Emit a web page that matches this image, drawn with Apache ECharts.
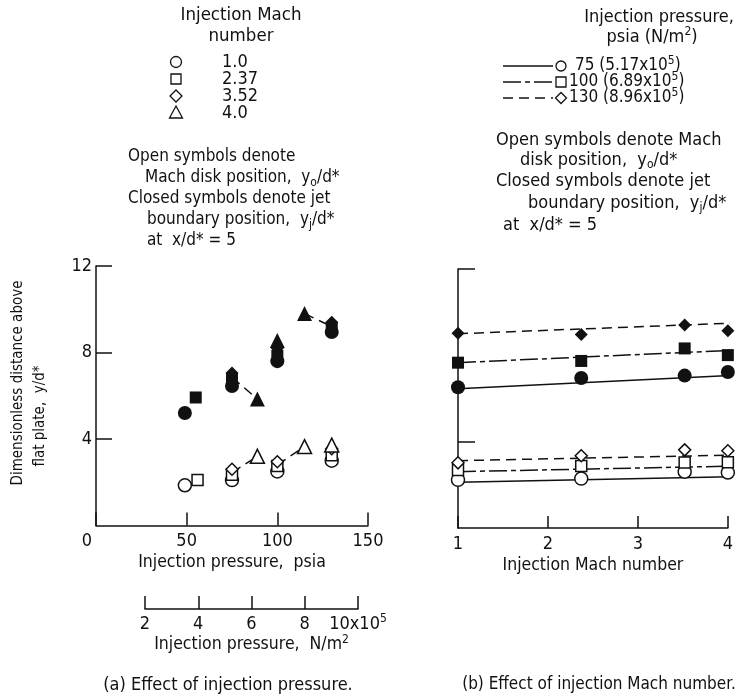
<!DOCTYPE html>
<html><head><meta charset="utf-8">
<script src="https://cdn.jsdelivr.net/npm/echarts@6/dist/echarts.min.js"></script>
<style>html,body{margin:0;padding:0;background:#fff}#c{width:736px;height:698px}</style>
</head><body><div id="c"></div>
<script>
// ---------------- Panel (a): effect of injection pressure ----------------
const psiaTicks = [0, 50, 100, 150];
const paTicks = [2, 4, 6, 8, 10];
const yTicks = [0, 4, 8, 12];
const machLegend = ['1.0', '2.37', '3.52', '4.0'];
// closed symbols: jet boundary position y_j/d*  [pressure psia, y/d*]
const aClosedM1 = [[49, 5.2], [75, 6.45], [100, 7.6], [130, 8.95]];
const aClosedM237 = [[55, 5.92], [75, 6.8], [100, 7.85], [130, 9.15]];
const aClosedM352 = [[75, 7.05], [100, 8.2], [130, 9.4]];
const aClosedM4 = [[89, 5.85], [100, 8.55], [115, 9.8]];
// open symbols: Mach disk position y_o/d*
const aOpenM1 = [[49, 1.86], [75, 2.1], [100, 2.5], [130, 3.0]];
const aOpenM237 = [[56, 2.1], [75, 2.35], [100, 2.75], [130, 3.25]];
const aOpenM352 = [[75, 2.6], [100, 2.95], [130, 3.55]];
const aOpenM4 = [[89, 3.2], [115, 3.65], [130, 3.72]];
// dashed connectors
const aDashClosed1 = [[75, 6.85], [89, 5.85]];
const aDashClosed2 = [[115, 9.8], [130, 9.2]];
const aDashOpen1 = [[75, 2.45], [89, 3.2]];
const aDashOpen2 = [[100, 2.8], [115, 3.65]];

// ---------------- Panel (b): effect of injection Mach number ----------------
const machTicks = [1, 2, 3, 4];
const machB = [1.0, 2.37, 3.52, 4.0];
const pressurePsia = ['75', '100', '130'];
const pressurePa = ['5.17', '6.89', '8.96'];
const b75Closed = [6.52, 6.95, 7.06, 7.23];
const b100Closed = [7.66, 7.74, 8.32, 8.01];
const b130Closed = [9.02, 8.97, 9.40, 9.14];
const b75Open = [2.23, 2.29, 2.61, 2.57];
const b100Open = [2.69, 2.87, 3.03, 3.05];
const b130Open = [3.02, 3.35, 3.62, 3.58];
// faired curves [Mach, y/d*]
const fair75Closed = [[1.0, 6.45], [4.08, 7.08]];
const fair100Closed = [[1.0, 7.66], [4.08, 8.24]];
const fair130Closed = [[1.0, 9.0], [4.08, 9.5]];
const fair75Open = [[1.0, 2.12], [4.08, 2.38]];
const fair100Open = [[1.0, 2.61], [4.08, 2.87]];
const fair130Open = [[1.0, 3.12], [4.08, 3.38]];

const FONT = "'Liberation Sans Narrow','DejaVu Sans Condensed','Liberation Sans',sans-serif";
const BLK = '#111';
const DASH = [10, 6];
const DASHDOT = [18, 4, 5, 4];

const chart = echarts.init(document.getElementById('c'), null, {renderer: 'canvas'});

function zip(xs, ys) { return xs.map((x, i) => [x, ys[i]]); }
function sc(data, symbol, size, open, xi) {
  return {
    type: 'scatter', xAxisIndex: xi, yAxisIndex: xi, data: data, symbol: symbol, symbolSize: size,
    silent: true, z: open ? 4 : 3,
    itemStyle: open ? {color: '#fff', borderColor: BLK, borderWidth: 1.5, opacity: 1} : {color: BLK, opacity: 1}
  };
}
function ln(data, type, xi) {
  return {
    type: 'line', xAxisIndex: xi, yAxisIndex: xi, data: data, showSymbol: false, symbol: 'none',
    silent: true, clip: false, z: 2, lineStyle: {color: BLK, width: 1.5, type: type}
  };
}
const richFor = s => ({
  n: {fontSize: s, fontFamily: FONT, lineHeight: 22, fill: BLK},
  sub: {fontSize: 12, fontFamily: FONT, lineHeight: 12, verticalAlign: 'bottom', fill: BLK},
  sup: {fontSize: 12, fontFamily: FONT, lineHeight: 12, verticalAlign: 'top', fill: BLK}
});
const txt = (x, y, text, size, align, extra) => Object.assign({
  type: 'text', x: x, y: y, silent: true,
  style: {
    text: text, fontSize: size, fontFamily: FONT, fill: BLK,
    align: align || 'left', verticalAlign: 'middle', rich: richFor(size)
  }
}, extra || {});
const axisRich = {
  n: {fontSize: 18, fontFamily: FONT, color: BLK, lineHeight: 22},
  s: {fontSize: 12, fontFamily: FONT, color: BLK, lineHeight: 11, verticalAlign: 'top'},
  m: {fontSize: 17.5, fontFamily: FONT, color: BLK, lineHeight: 22}
};

const axisCommon = {
  axisLine: {show: true, lineStyle: {color: BLK, width: 1.5}},
  splitLine: {show: false},
  axisLabel: {color: BLK, fontSize: 18, fontFamily: FONT},
  nameTextStyle: {color: BLK, fontSize: 17.5, fontFamily: FONT}
};

const graphic = [];
// left legend block
graphic.push(txt(241, 15, 'Injection Mach', 18.5, 'center'));
graphic.push(txt(241, 36, 'number', 18.5, 'center'));
const rowsL = [62, 79, 96, 113];
rowsL.forEach((y, i) => graphic.push(txt(222, y, machLegend[i], 18, 'left')));
graphic.push({type: 'circle', shape: {cx: 176, cy: rowsL[0], r: 5.5}, style: {fill: '#fff', stroke: BLK, lineWidth: 1.3}});
graphic.push({type: 'rect', shape: {x: 171, y: rowsL[1] - 5, width: 10, height: 10}, style: {fill: '#fff', stroke: BLK, lineWidth: 1.3}});
graphic.push({type: 'polygon', shape: {points: [[176, rowsL[2] - 6], [182, rowsL[2]], [176, rowsL[2] + 6], [170, rowsL[2]]]}, style: {fill: '#fff', stroke: BLK, lineWidth: 1.3}});
graphic.push({type: 'polygon', shape: {points: [[176, rowsL[3] - 7], [182.5, rowsL[3] + 5], [169.5, rowsL[3] + 5]]}, style: {fill: '#fff', stroke: BLK, lineWidth: 1.3}});
graphic.push(txt(128, 157, 'Open symbols denote', 17));
graphic.push(txt(145, 178, '{n|Mach disk position,  y}{sub|o}{n|/d*}', 17));
graphic.push(txt(128, 199, 'Closed symbols denote jet', 17));
graphic.push(txt(147, 220, '{n|boundary position,  y}{sub|j}{n|/d*}', 17));
graphic.push(txt(147, 241, 'at  x/d* = 5', 17));

// right legend block
graphic.push(txt(659, 17, 'Injection pressure,', 18, 'center'));
graphic.push(txt(652, 37, '{n|psia (N/m}{sup|2}{n|)}', 18, 'center'));
const rowsR = [66, 82, 98];
const dashR = [null, DASHDOT, DASH];
rowsR.forEach((y, i) => {
  graphic.push({type: 'line', shape: {x1: 503, y1: y, x2: 553, y2: y}, style: {stroke: BLK, lineWidth: 1.3, lineDash: dashR[i]}});
  graphic.push(txt(i === 0 ? 575 : 569, y, '{n|' + pressurePsia[i] + ' (' + pressurePa[i] + 'x10}{sup|5}{n|)}', 17, 'left'));
});
graphic.push({type: 'circle', shape: {cx: 561, cy: rowsR[0], r: 5}, style: {fill: '#fff', stroke: BLK, lineWidth: 1.3}});
graphic.push({type: 'rect', shape: {x: 556, y: rowsR[1] - 5, width: 10, height: 10}, style: {fill: '#fff', stroke: BLK, lineWidth: 1.3}});
graphic.push({type: 'polygon', shape: {points: [[561, rowsR[2] - 5.5], [566.5, rowsR[2]], [561, rowsR[2] + 5.5], [555.5, rowsR[2]]]}, style: {fill: '#fff', stroke: BLK, lineWidth: 1.3}});
graphic.push(txt(496, 140, 'Open symbols denote Mach', 18));
graphic.push(txt(520, 160, '{n|disk position,  y}{sub|o}{n|/d*}', 18));
graphic.push(txt(496, 181, 'Closed symbols denote jet', 18));
graphic.push(txt(528, 203, '{n|boundary position,  y}{sub|j}{n|/d*}', 18));
graphic.push(txt(503, 225, 'at  x/d* = 5', 18));

// y-axis title (rotated)
graphic.push(txt(18, 383, 'Dimensionless distance above', 15, 'center', {rotation: Math.PI / 2}));
graphic.push(txt(40, 416, 'flat plate,  y/d*', 15, 'center', {rotation: Math.PI / 2}));

// captions
graphic.push(txt(228, 685, '(a) Effect of injection pressure.', 18, 'center'));
graphic.push(txt(599, 685, '(b) Effect of injection Mach number.', 17, 'center'));

const option = {
  animation: false,
  backgroundColor: '#fff',
  grid: [
    {left: 96, top: 266, width: 272, height: 259.5},
    {left: 458, top: 269, width: 271, height: 259},
    {left: 145, top: 595, width: 213, height: 14}
  ],
  xAxis: [
    Object.assign({}, axisCommon, {
      gridIndex: 0, type: 'value', min: psiaTicks[0], max: psiaTicks[psiaTicks.length - 1], interval: 50,
      axisTick: {inside: true, length: 13, lineStyle: {color: BLK, width: 1.5}},
      axisLabel: Object.assign({}, axisCommon.axisLabel, {margin: 7,
        formatter: v => v === 0 ? '{z|0}' : String(v),
        rich: {z: {fontSize: 18, fontFamily: FONT, color: BLK, padding: [0, 18, 0, 0]}}}),
      name: 'Injection pressure,  psia', nameLocation: 'middle', nameGap: 28
    }),
    Object.assign({}, axisCommon, {
      gridIndex: 1, type: 'value', min: machTicks[0], max: machTicks[machTicks.length - 1], interval: 1,
      axisTick: {inside: true, length: 12, lineStyle: {color: BLK, width: 1.5}},
      axisLabel: Object.assign({}, axisCommon.axisLabel, {margin: 7}),
      name: 'Injection Mach number', nameLocation: 'middle', nameGap: 28
    }),
    Object.assign({}, axisCommon, {
      gridIndex: 2, type: 'value', min: paTicks[0], max: paTicks[paTicks.length - 1], interval: 2,
      axisTick: {inside: true, length: 13, lineStyle: {color: BLK, width: 1.5}},
      axisLabel: Object.assign({}, axisCommon.axisLabel, {margin: 4,
        formatter: v => v === 10 ? '{n|10x10}{s|5}' : '{n|' + v + '}',
        rich: axisRich}),
      name: '{m|Injection pressure,  N/m}{s|2}', nameLocation: 'middle', nameGap: 24,
      nameTextStyle: {rich: axisRich}
    })
  ],
  yAxis: [
    Object.assign({}, axisCommon, {
      gridIndex: 0, type: 'value', min: yTicks[0], max: yTicks[yTicks.length - 1], interval: 4,
      axisTick: {inside: true, length: 16, lineStyle: {color: BLK, width: 1.5}},
      axisLabel: Object.assign({}, axisCommon.axisLabel, {margin: 4, showMinLabel: false})
    }),
    Object.assign({}, axisCommon, {
      gridIndex: 1, type: 'value', min: yTicks[0], max: yTicks[yTicks.length - 1], interval: 4,
      axisTick: {inside: true, length: 17, customValues: [4, 12], lineStyle: {color: BLK, width: 1.5}},
      axisLabel: {show: false}
    }),
    {gridIndex: 2, type: 'value', show: false, min: 0, max: 1}
  ],
  series: [
    ln(aDashClosed1, DASH, 0), ln(aDashClosed2, DASH, 0), ln(aDashOpen1, DASH, 0), ln(aDashOpen2, DASH, 0),
    sc(aClosedM1, 'circle', 14, false, 0), sc(aClosedM237, 'rect', 12, false, 0),
    sc(aClosedM352, 'diamond', 13, false, 0), sc(aClosedM4, 'triangle', 15, false, 0),
    sc(aOpenM1, 'circle', 13, true, 0), sc(aOpenM237, 'rect', 11, true, 0),
    sc(aOpenM352, 'diamond', 12, true, 0), sc(aOpenM4, 'triangle', 14, true, 0),

    ln(fair75Closed, 'solid', 1), ln(fair100Closed, DASHDOT, 1), ln(fair130Closed, DASH, 1),
    ln(fair75Open, 'solid', 1), ln(fair100Open, DASHDOT, 1), ln(fair130Open, DASH, 1),
    sc(zip(machB, b75Closed), 'circle', 14, false, 1), sc(zip(machB, b100Closed), 'rect', 12, false, 1),
    sc(zip(machB, b130Closed), 'diamond', 13, false, 1),
    sc(zip(machB, b75Open), 'circle', 13, true, 1), sc(zip(machB, b100Open), 'rect', 11, true, 1),
    sc(zip(machB, b130Open), 'diamond', 12, true, 1)
  ].map(s => Object.assign(s, {clip: false})),
  graphic: graphic
};
chart.setOption(option);
</script></body></html>
